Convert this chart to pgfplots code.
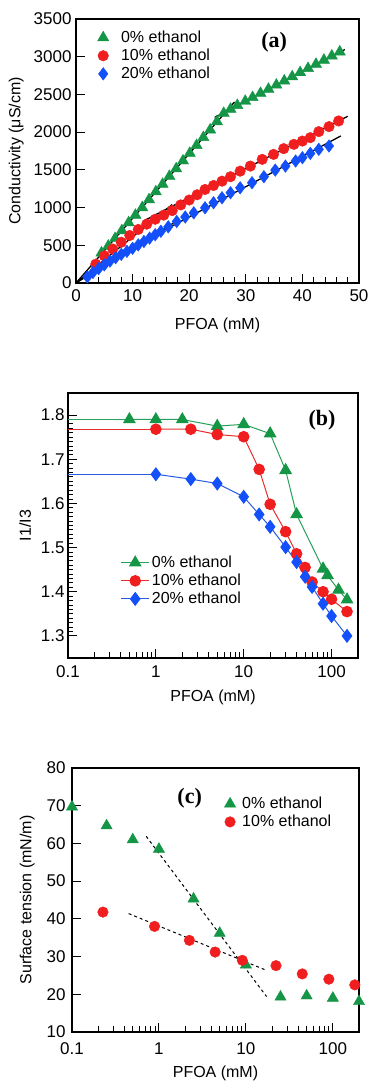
\documentclass[border=0pt]{standalone}
\usepackage{fontspec}
\setmainfont{Liberation Sans}
\newfontfamily\serifb{Liberation Serif}
\usepackage{pgfplots}
\pgfplotsset{compat=1.18}
\definecolor{mgreen}{RGB}{20,150,70}
\definecolor{mred}{RGB}{240,30,30}
\definecolor{mblue}{RGB}{20,80,250}
\definecolor{lgreen}{RGB}{40,160,90}
\definecolor{lred}{RGB}{230,45,45}
\definecolor{lblue}{RGB}{40,90,225}
\pgfplotsset{
  common/.style={
    scale only axis, anchor=south west,
    tick align=inside, tick pos=left,
    major tick length=9pt, minor tick length=5.5pt,
    every tick/.style={black, line width=0.9pt},
    axis line style={line width=1.1pt},
    /pgf/number format/assume math mode=true,
    /pgf/number format/1000 sep={},
    tick label style={font=\fontsize{17}{19}\selectfont},
    label style={font=\fontsize{16}{18}\selectfont},
    legend cell align=left,
    legend style={draw=none, fill=none, font=\fontsize{16}{19}\selectfont, row sep=1pt},
  },
  tri/.style={only marks, mark=triangle*, mark size=6.5pt, color=mgreen},
  circ/.style={only marks, mark=*, mark size=5.3pt, color=mred},
  dia/.style={only marks, mark=diamond*, mark size=6.3pt, color=mblue},
}
\begin{document}
\begin{tikzpicture}
\useasboundingbox (0,0) rectangle (367pt,1082pt);
% ---------------- (a)
\begin{axis}[common, at={(76pt,799pt)}, width=283pt, height=264pt,
  xmin=0, xmax=50, ymin=0, ymax=3500,
  xtick={0,10,...,50}, ytick={0,500,...,3500}, minor x tick num=4,
  xticklabel style={yshift=-3pt}, yticklabel style={xshift=-1pt},
  xlabel={PFOA (mM)}, ylabel={Conductivity (μS/cm)},
  xlabel style={yshift=-9pt}, ylabel shift=3pt,
  legend style={at={(0.065,0.97)}, anchor=north west},
  legend image code/.code={\draw[#1] plot coordinates {(0.2cm,0cm)}; \path (0.75cm,0cm);}]
\addplot[tri] coordinates {(4.5,400)(5.7,490)(6.9,590)(8.1,695)(9.3,800)(10.5,900)(11.7,1000)(12.9,1105)(14.1,1210)(15.3,1310)(16.5,1415)(17.7,1515)(18.9,1620)(20.1,1720)(21.3,1825)(22.5,1930)(23.7,2030)(24.9,2140)(26.1,2250)(27.3,2305)(28.5,2355)(29.9,2410)(31.2,2460)(32.6,2515)(34.0,2570)(35.4,2625)(36.8,2680)(38.2,2735)(39.6,2790)(41.0,2845)(42.4,2900)(43.8,2955)(45.2,3010)(46.6,3065)};
\addlegendentry{0\% ethanol}
\addplot[circ] coordinates {(3.5,250)(5.0,360)(6.5,450)(8.0,540)(9.5,630)(11.0,710)(12.5,780)(14.0,845)(15.5,900)(17.0,960)(18.5,1035)(20.0,1100)(21.4,1170)(22.8,1240)(24.3,1293)(25.8,1350)(27.3,1409)(29.0,1483)(30.8,1550)(32.9,1639)(34.9,1705)(36.7,1781)(38.5,1838)(40.0,1882)(41.4,1927)(42.9,2007)(44.7,2073)(46.4,2148)};
\addlegendentry{10\% ethanol}
\addplot[dia] coordinates {(2.0,80)(3.0,140)(4.0,190)(5.0,240)(6.0,290)(7.0,335)(8.0,380)(9.0,420)(10.0,460)(11.0,505)(12.0,550)(13.0,595)(14.0,640)(15.0,685)(16.3,745)(17.8,815)(19.3,875)(20.8,930)(22.8,997)(24.3,1063)(25.8,1130)(27.3,1196)(29.0,1262)(31.1,1329)(33.2,1409)(35.2,1497)(37.0,1550)(38.8,1617)(40.0,1661)(41.4,1718)(42.9,1772)(44.7,1816)};
\addlegendentry{20\% ethanol}
\addplot[black, line width=1.3pt, forget plot] coordinates {(0,0)(28,2400)};
\addplot[black, line width=1.3pt, forget plot] coordinates {(24.5,2195)(47.5,3095)};
\addplot[black, line width=1.3pt, forget plot] coordinates {(0,0)(17,1040)};
\addplot[black, line width=1.3pt, forget plot] coordinates {(12,825)(48,2210)};
\addplot[black, line width=1.3pt, forget plot] coordinates {(0,0)(18,830)};
\addplot[black, line width=1.3pt, forget plot] coordinates {(8,395)(46.8,1950)};
\node[font=\serifb\bfseries\fontsize{22}{24}\selectfont] at (rel axis cs:0.70,0.913) {(a)};
\end{axis}
% ---------------- (b)
\begin{axis}[common, at={(68pt,424pt)}, width=290pt, height=265pt,
  xmode=log, xmin=0.1, xmax=200, ymin=1.25, ymax=1.85,
  xtick={0.1,1,10,100}, xticklabels={0.1,1,10,100},
  minor xtick={0.2,0.3,0.4,0.5,0.6,0.7,0.8,0.9,2,3,4,5,6,7,8,9,20,30,40,50,60,70,80,90,200},
  ytick={1.3,1.4,...,1.8}, minor y tick num=9,
  xticklabel style={yshift=-4pt},
  yticklabel style={/pgf/number format/.cd, fixed, fixed zerofill, precision=1},
  xlabel={PFOA (mM)}, ylabel={I1/I3},
  xlabel style={yshift=-5pt}, ylabel shift=3pt,
  legend style={at={(0.17,0.40)}, anchor=north west},
  legend image code/.code={\draw[#1, mark repeat=2, mark phase=2] plot coordinates {(0cm,0cm)(0.5cm,0cm)(1cm,0cm)};}]
\addplot[lgreen, line width=1pt, forget plot] coordinates {(0.1,1.790)(0.5,1.790)};
\addplot[lred, line width=1pt, forget plot] coordinates {(0.1,1.768)(1,1.768)};
\addplot[lblue, line width=1pt, forget plot] coordinates {(0.1,1.666)(1,1.666)};
\addplot[lgreen, line width=1pt, mark=triangle*, mark size=6.5pt, mark options={fill=mgreen, draw=mgreen}] coordinates {(0.5,1.790)(1,1.790)(2,1.790)(5,1.775)(10,1.779)(20,1.758)(30,1.675)(40,1.575)(80,1.452)(90,1.437)(120,1.404)(150,1.382)};
\addlegendentry{0\% ethanol}
\addplot[lred, line width=1pt, mark=*, mark size=5.3pt, mark options={fill=mred, draw=mred}] coordinates {(1,1.768)(2.5,1.768)(5,1.756)(10,1.751)(15,1.677)(20,1.598)(30,1.536)(40,1.486)(50,1.455)(60,1.422)(80,1.400)(100,1.383)(150,1.355)};
\addlegendentry{10\% ethanol}
\addplot[lblue, line width=1pt, mark=diamond*, mark size=6.3pt, mark options={fill=mblue, draw=mblue}] coordinates {(1,1.666)(2.5,1.655)(5,1.645)(10,1.615)(15,1.575)(20,1.547)(30,1.501)(40,1.467)(50,1.434)(60,1.411)(80,1.373)(100,1.345)(150,1.300)};
\addlegendentry{20\% ethanol}
\node[font=\serifb\bfseries\fontsize{22}{24}\selectfont] at (rel axis cs:0.876,0.898) {(b)};
\end{axis}
% ---------------- (c)
\begin{axis}[common, at={(72pt,50pt)}, width=287pt, height=264pt, clip=false,
  xmode=log, xmin=0.1, xmax=200, ymin=10, ymax=80,
  xtick={0.1,1,10,100}, xticklabels={0.1,1,10,100},
  minor xtick={0.2,0.3,0.4,0.5,0.6,0.7,0.8,0.9,2,3,4,5,6,7,8,9,20,30,40,50,60,70,80,90,200},
  ytick={10,20,...,80},
  xticklabel style={yshift=-7pt}, yticklabel style={xshift=-3pt},
  xlabel={PFOA (mM)}, ylabel={Surface tension (mN/m)},
  xlabel style={yshift=-4pt}, ylabel shift=5pt,
  legend style={at={(0.52,0.905)}, anchor=north west},
  legend image code/.code={\draw[#1] plot coordinates {(0.25cm,0cm)}; \path (0.6cm,0cm);}]
\addplot[tri] coordinates {(0.1,69.7)(0.25,64.7)(0.5,61.0)(1,58.5)(2.5,45.3)(5,36.2)(10,27.8)(25,19.3)(50,19.6)(100,19.0)(200,18.1)};
\addlegendentry{0\% ethanol}
\addplot[circ] coordinates {(0.227,41.8)(0.89,38.0)(2.24,34.3)(4.43,31.2)(9.1,29.0)(22.2,27.6)(44.5,25.4)(90,24.0)(179,22.5)};
\addlegendentry{10\% ethanol}
\addplot[black, dashed, line width=1pt, forget plot] coordinates {(0.713,61.9)(17.3,19.4)};
\addplot[black, dashed, line width=1pt, forget plot] coordinates {(0.448,41.4)(16.6,26.5)};
\node[font=\serifb\bfseries\fontsize{22}{24}\selectfont] at (rel axis cs:0.41,0.886) {(c)};
\end{axis}
\end{tikzpicture}
\end{document}
